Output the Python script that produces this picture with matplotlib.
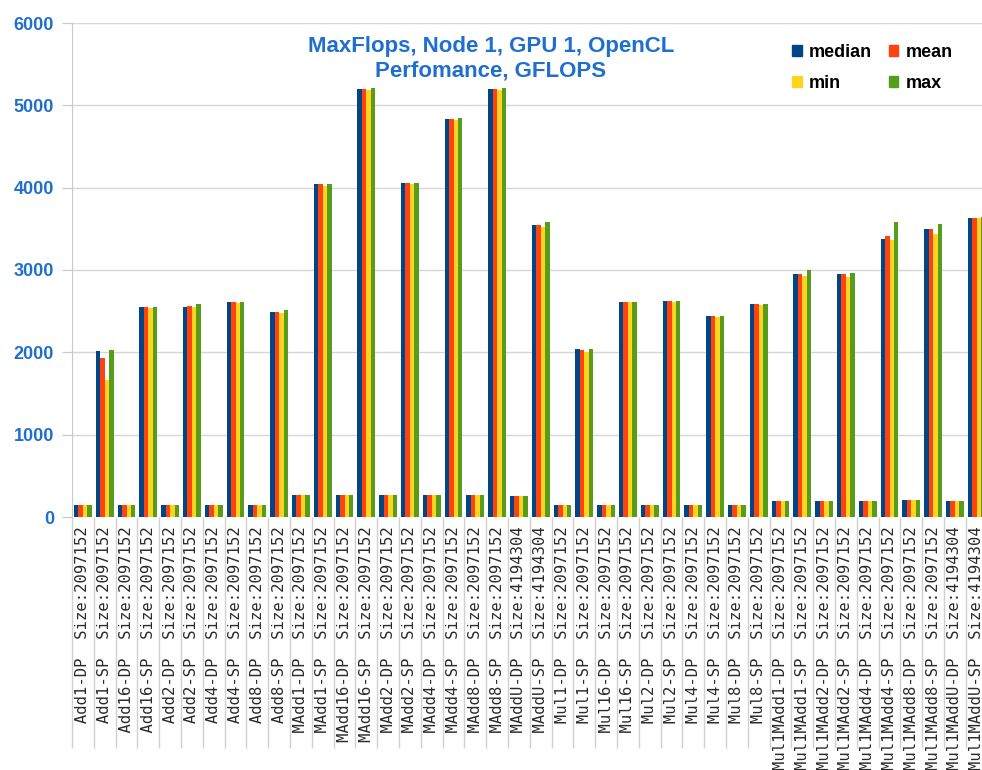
import numpy as np
import matplotlib.pyplot as plt
from matplotlib.patches import Patch

plt.rcParams.update({"font.family": ["Liberation Sans", "DejaVu Sans"]})

# Data (GFLOPS)
tests = ["Add1-DP", "Add1-SP", "Add16-DP", "Add16-SP", "Add2-DP", "Add2-SP",
         "Add4-DP", "Add4-SP", "Add8-DP", "Add8-SP",
         "MAdd1-DP", "MAdd1-SP", "MAdd16-DP", "MAdd16-SP", "MAdd2-DP", "MAdd2-SP",
         "MAdd4-DP", "MAdd4-SP", "MAdd8-DP", "MAdd8-SP", "MAddU-DP", "MAddU-SP",
         "Mul1-DP", "Mul1-SP", "Mul16-DP", "Mul16-SP", "Mul2-DP", "Mul2-SP",
         "Mul4-DP", "Mul4-SP", "Mul8-DP", "Mul8-SP",
         "Mul1MAdd1-DP", "Mul1MAdd1-SP", "Mul1MAdd2-DP", "Mul1MAdd2-SP",
         "Mul1MAdd4-DP", "Mul1MAdd4-SP", "Mul1MAdd8-DP", "Mul1MAdd8-SP",
         "Mul1MAddU-DP", "Mul1MAddU-SP"]
sizes = [2097152] * 20 + [4194304, 4194304] + [2097152] * 18 + [4194304, 4194304]

median = [145, 2020, 145, 2546, 145, 2551, 145, 2607, 145, 2490,
          267, 4041, 262, 5198, 267, 4057, 267, 4839, 267, 5198, 259, 3551,
          141, 2040, 141, 2617, 141, 2629, 141, 2439, 141, 2593,
          198, 2955, 198, 2955, 198, 3375, 202, 3498, 198, 3632]
mean = [145, 1936, 145, 2546, 145, 2567, 145, 2607, 145, 2490,
        267, 4041, 262, 5198, 267, 4057, 267, 4839, 267, 5198, 259, 3551,
        141, 2032, 141, 2617, 141, 2629, 141, 2439, 141, 2585,
        198, 2955, 198, 2947, 198, 3408, 202, 3502, 198, 3632]
min_ = [145, 1665, 145, 2534, 145, 2551, 145, 2600, 145, 2478,
        267, 4020, 262, 5185, 267, 4041, 267, 4822, 267, 5185, 259, 3523,
        141, 2004, 141, 2609, 141, 2617, 141, 2431, 141, 2572,
        198, 2927, 198, 2918, 198, 3363, 202, 3441, 198, 3632]
max_ = [145, 2028, 145, 2546, 145, 2590, 145, 2607, 145, 2518,
        267, 4048, 262, 5205, 267, 4057, 267, 4851, 267, 5205, 259, 3580,
        141, 2040, 141, 2613, 141, 2629, 141, 2439, 141, 2593,
        198, 3004, 198, 2963, 198, 3588, 202, 3555, 198, 3640]

series = [("median", median, "#004586"), ("mean", mean, "#ff420e"),
          ("min", min_, "#ffd320"), ("max", max_, "#579d1c")]

blue = "#1f6fd0"
grid = "#d6d6d6"

fig = plt.figure(figsize=(9.82, 7.70), dpi=100)
ax = fig.add_axes([72 / 982, 1 - 517 / 770, 915.6 / 982, 494 / 770])

x = np.arange(len(tests))
w = 0.205
for i, (lab, vals, col) in enumerate(series):
    ax.bar(x + (i - 1.5) * w, vals, w, color=col, linewidth=0, zorder=3)

ax.set_xlim(-0.5, len(tests) - 0.5)
ax.set_ylim(0, 6000)
ax.set_yticks(range(0, 6001, 1000))
ax.grid(axis="y", color=grid, linewidth=1, zorder=0)
for s in ["top", "right", "bottom"]:
    ax.spines[s].set_visible(False)
ax.spines["left"].set_color("#c8c8c8")
ax.tick_params(axis="y", length=7, color="#c8c8c8", pad=6,
               labelsize=13, labelcolor=blue)
for t in ax.get_yticklabels():
    t.set_fontweight("bold")

labels = [f"{n:>12}  Size:{s}" for n, s in zip(tests, sizes)]
ax.set_xticks(x)
ax.set_xticklabels(labels, rotation=90, family="DejaVu Sans Mono",
                   fontsize=11.2, color="#2a2a2a", va="top", ha="center")
ax.set_xticks(np.arange(-0.5, len(tests), 1), minor=True)
ax.tick_params(axis="x", which="major", length=0, pad=7)
ax.tick_params(axis="x", which="minor", length=166, color="#d0d0d0", width=1)

fig.text(491 / 982, 1 - 59 / 770,
         "MaxFlops, Node 1, GPU 1, OpenCL\nPerfomance, GFLOPS",
         ha="center", va="center", color=blue, fontsize=16,
         fontweight="bold", linespacing=1.25)

# legend filled column-wise: order so rows read median/mean, min/max
hmap = {l: Patch(color=c, label=l) for l, _, c in series}
handles = [hmap["median"], hmap["min"], hmap["mean"], hmap["max"]]
fig.legend(handles=handles, ncol=2, loc="upper left",
           bbox_to_anchor=(783 / 982, 1 - 35 / 770), frameon=False,
           prop={"weight": "bold", "size": 13}, borderpad=0,
           handlelength=0.55, handleheight=0.55, handletextpad=0.4,
           columnspacing=0.9, labelspacing=0.75)

fig.savefig("out.png", dpi=100)
